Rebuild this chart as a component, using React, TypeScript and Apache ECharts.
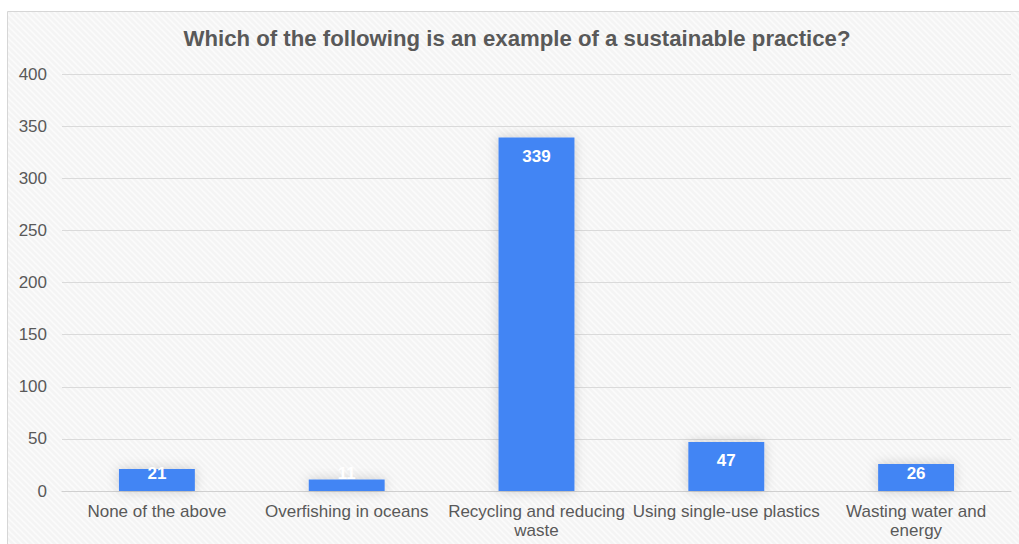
import React, { useEffect, useRef } from "react";
import * as echarts from "echarts";

const categories = [
  "None of the above",
  "Overfishing in oceans",
  "Recycling and reducing\nwaste",
  "Using single-use plastics",
  "Wasting water and\nenergy",
];
const values = [21, 11, 339, 47, 26];
const yTicks = [0, 50, 100, 150, 200, 250, 300, 350, 400];
const titleText = "Which of the following is an example of a sustainable practice?";

function makePattern(): HTMLCanvasElement {
  const c = document.createElement("canvas");
  c.width = 6;
  c.height = 6;
  const ctx = c.getContext("2d")!;
  ctx.fillStyle = "#f4f4f4";
  ctx.fillRect(0, 0, 6, 6);
  ctx.strokeStyle = "#fbfbfb";
  ctx.lineWidth = 1.5;
  ctx.beginPath();
  ctx.moveTo(-1, -1);
  ctx.lineTo(7, 7);
  ctx.moveTo(-4, 2);
  ctx.lineTo(4, 10);
  ctx.moveTo(2, -4);
  ctx.lineTo(10, 4);
  ctx.stroke();
  return c;
}

export default function App() {
  const ref = useRef<HTMLDivElement>(null);
  useEffect(() => {
    document.body.style.margin = "0";
    const chart = echarts.init(ref.current!, null, { renderer: "svg" });
    const plotH = 417;
    const maxV = yTicks[yTicks.length - 1];
    const scale = plotH / maxV;
    let fill: any = "#f5f5f5";
    try {
      fill = { image: makePattern(), repeat: "repeat" };
    } catch (e) {}
    const data = values.map((v) => {
      const h = v * scale;
      const centerAbove = h - 19;
      const offY = centerAbove < 17 ? -(17 - centerAbove) : 0;
      return { value: v, label: { offset: [0, offY] } };
    });
    const ff = "Liberation Sans, Arial, sans-serif";
    chart.setOption({
      animation: false,
      graphic: [
        {
          type: "rect",
          z: -10,
          silent: true,
          shape: { x: 7.5, y: 11.5, width: 1040, height: 560 },
          style: { fill, stroke: "#d6d6d6", lineWidth: 1 },
        },
      ],
      title: {
        text: titleText,
        left: 512,
        textAlign: "center",
        top: 22,
        textStyle: {
          fontFamily: ff,
          fontSize: 22.2,
          fontWeight: "bold",
          color: "#595959",
        },
      },
      grid: { left: 62, right: 8, top: 74, bottom: 53, containLabel: false },
      xAxis: {
        type: "category",
        data: categories,
        axisTick: { show: false },
        axisLine: { lineStyle: { color: "#d0d0d0" } },
        axisLabel: {
          interval: 0,
          color: "#595959",
          fontSize: 17,
          lineHeight: 19,
          margin: 11,
          fontFamily: ff,
        },
      },
      yAxis: {
        type: "value",
        min: 0,
        max: maxV,
        interval: 50,
        axisLine: { show: false },
        axisTick: { show: false },
        splitLine: { lineStyle: { color: "#dadada" } },
        axisLabel: {
          color: "#595959",
          fontSize: 17,
          margin: 15,
          fontFamily: ff,
        },
      },
      series: [
        {
          type: "bar",
          data,
          barWidth: "40%",
          itemStyle: {
            color: "#4285f4",
            shadowColor: "rgba(0,0,0,0.18)",
            shadowBlur: 12,
          },
          label: {
            show: true,
            position: "insideTop",
            distance: 10,
            color: "#ffffff",
            fontWeight: "bold",
            fontSize: 17,
            fontFamily: ff,
          },
        },
      ],
    });
    return () => chart.dispose();
  }, []);
  return <div ref={ref} style={{ width: 1019, height: 544 }} />;
}
